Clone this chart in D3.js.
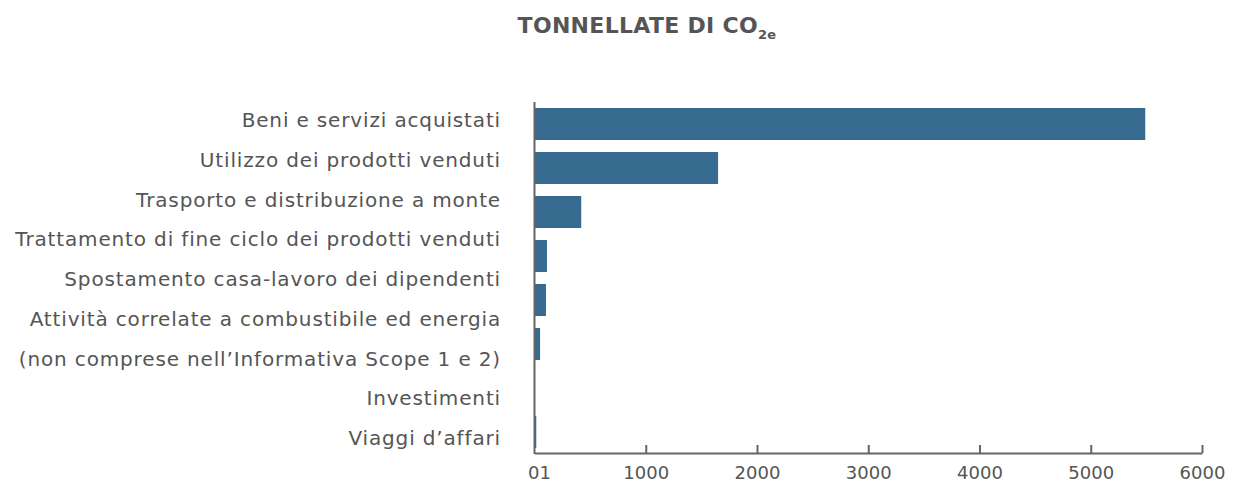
<!DOCTYPE html>
<html>
<head>
<meta charset="utf-8">
<script src="https://cdn.jsdelivr.net/npm/d3@7"></script>
<style>
  body { margin: 0; background: #fff; }
  svg text { font-family: "DejaVu Sans", sans-serif; fill: #555; }
</style>
</head>
<body>
<svg id="chart" width="1237" height="485"></svg>
<script>
// categories, label lines as shown left of the bars
var categories = [
  "Beni e servizi acquistati",
  "Utilizzo dei prodotti venduti",
  "Trasporto e distribuzione a monte",
  "Trattamento di fine ciclo dei prodotti venduti",
  "Spostamento casa-lavoro dei dipendenti",
  "Attività correlate a combustibile ed energia",
  "Investimenti",
  "Viaggi d’affari"
];
var labelLines = [
  ["Beni e servizi acquistati"],
  ["Utilizzo dei prodotti venduti"],
  ["Trasporto e distribuzione a monte"],
  ["Trattamento di fine ciclo dei prodotti venduti"],
  ["Spostamento casa-lavoro dei dipendenti"],
  ["Attività correlate a combustibile ed energia", "(non comprese nell’Informativa Scope 1 e 2)"],
  ["Investimenti"],
  ["Viaggi d’affari"]
];
var values = [5490, 1650, 420, 112, 103, 50, 4, 16];
var xTicks = [0, 1000, 2000, 3000, 4000, 5000, 6000];

var svg = d3.select("#chart");
var barColor = "#366a8f";
var axisColor = "#666";

var x = d3.scaleLinear().domain([0, 6000]).range([534.5, 1202]);
var y = d3.scaleBand()
  .domain(categories)
  .range([102, 454])
  .paddingInner(12 / 44)
  .paddingOuter(6 / 44);

// title
var title = svg.append("text")
  .attr("x", 647)
  .attr("y", 33)
  .attr("text-anchor", "middle")
  .attr("font-size", "22px")
  .attr("font-weight", "bold")
  .attr("letter-spacing", "0.3px");
title.append("tspan").text("TONNELLATE DI CO");
title.append("tspan")
  .attr("font-size", "13px")
  .attr("dy", 6)
  .text("2e");

// bars
svg.selectAll("rect.bar")
  .data(values)
  .enter()
  .append("rect")
  .attr("class", "bar")
  .attr("x", x(0))
  .attr("y", function(d, i) { return y(categories[i]); })
  .attr("width", function(d) { return x(d) - x(0); })
  .attr("height", y.bandwidth())
  .attr("fill", barColor);

// category labels: every line spaced evenly down the left side
var flatLines = [];
labelLines.forEach(function(lines) {
  lines.forEach(function(l) { flatLines.push(l); });
});
var lineY = d3.scalePoint()
  .domain(d3.range(flatLines.length))
  .range([120, 438]);

svg.append("g")
  .selectAll("text")
  .data(flatLines)
  .enter()
  .append("text")
  .attr("x", 501)
  .attr("y", function(d, i) { return lineY(i); })
  .attr("dy", "0.35em")
  .attr("text-anchor", "end")
  .attr("font-size", "20px")
  .attr("letter-spacing", "0.85px")
  .text(function(d) { return d; });

// x axis
var xAxis = d3.axisBottom(x)
  .tickValues(xTicks)
  .tickSize(0)
  .tickPadding(10)
  .tickFormat(function(d) { return d === 0 ? "01" : d; });

var gx = svg.append("g")
  .attr("transform", "translate(0,453)")
  .call(xAxis);
gx.select(".domain")
  .attr("stroke", axisColor)
  .attr("stroke-width", 2);
gx.selectAll(".tick text")
  .attr("font-family", "DejaVu Sans, sans-serif")
  .attr("font-size", "18px")
  .attr("fill", "#444")
  .attr("dy", "0.9em");
gx.selectAll(".tick text")
  .filter(function(d) { return d === 0; })
  .attr("text-anchor", "start")
  .attr("x", -7);
gx.selectAll(".tick")
  .filter(function(d) { return d > 0; })
  .append("line")
  .attr("y1", 0)
  .attr("y2", -8)
  .attr("stroke", axisColor)
  .attr("stroke-width", 2);

// y axis line
svg.append("line")
  .attr("x1", x(0))
  .attr("x2", x(0))
  .attr("y1", 102)
  .attr("y2", 454)
  .attr("stroke", axisColor)
  .attr("stroke-width", 2);
</script>
</body>
</html>
